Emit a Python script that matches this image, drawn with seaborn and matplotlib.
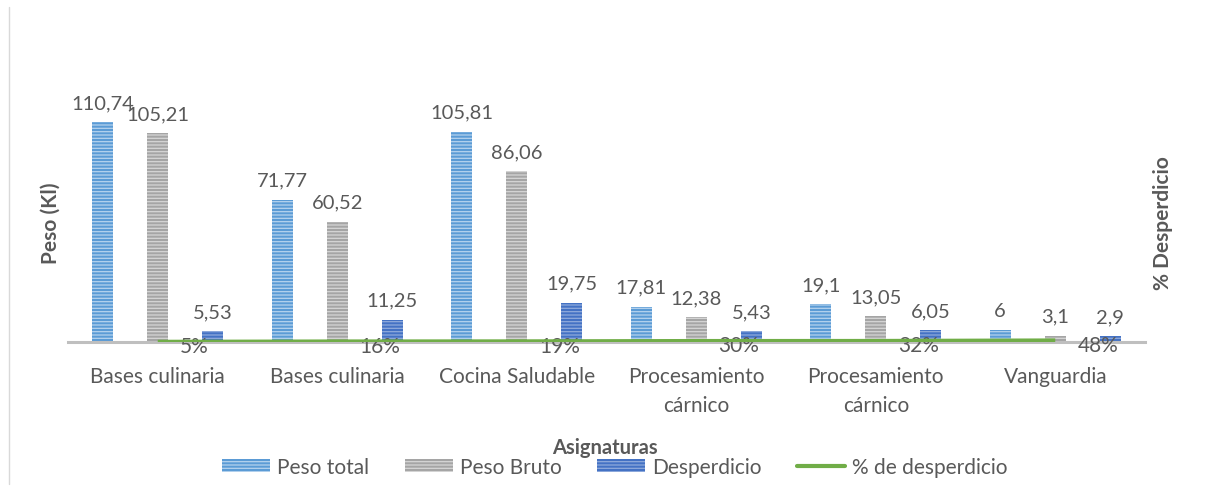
import matplotlib

matplotlib.use("Agg")
import matplotlib.pyplot as plt
import matplotlib.patches as mpatches
import matplotlib.lines as mlines
import pandas as pd
import seaborn as sns

categories = ["Bases culinaria", "Bases culinaria", "Cocina Saludable",
              "Procesamiento\ncárnico", "Procesamiento\ncárnico", "Vanguardia"]
peso_total = [110.74, 71.77, 105.81, 17.81, 19.1, 6]
peso_bruto = [105.21, 60.52, 86.06, 12.38, 13.05, 3.1]
desperdicio = [5.53, 11.25, 19.75, 5.43, 6.05, 2.9]
pct_desperdicio = [0.05, 0.16, 0.19, 0.30, 0.32, 0.48]
series_names = ["Peso total", "Peso Bruto", "Desperdicio"]

sns.set_theme(style="white")
plt.rcParams["font.family"] = ["Lato", "DejaVu Sans"]
plt.rcParams["hatch.linewidth"] = 0.9

TEXT = "#595959"
# (face, stripe) per series
styles = {
    "Peso total": ("#5B9BD5", "#B4D2EE"),
    "Peso Bruto": ("#A5A5A5", "#D6D6D6"),
    "Desperdicio": ("#4472C4", "#8FAADC"),
}

# unique x keys so repeated category names stay separate
keys = [f"{i}" for i in range(len(categories))]
rows = []
for name, vals in zip(series_names, [peso_total, peso_bruto, desperdicio]):
    for k, v in zip(keys, vals):
        rows.append({"cat": k, "serie": name, "valor": v})
df = pd.DataFrame(rows)

fig = plt.figure(figsize=(12.06, 4.89), dpi=100)
ax = fig.add_axes([68 / 1206, 1 - 343 / 489, (1145 - 68) / 1206, 0.6495])

sns.barplot(data=df, x="cat", y="valor", hue="serie", hue_order=series_names,
            palette=[styles[s][0] for s in series_names], width=0.92, gap=0.62,
            legend=False, ax=ax, zorder=2)

for cont, name in zip(ax.containers, series_names):
    face, stripe = styles[name]
    for bar in cont:
        bar.set_facecolor(face)
        bar.set_edgecolor(stripe)
        bar.set_hatch("-----")
        bar.set_linewidth(0)
    labels = [f"{v:g}".replace(".", ",") for v in cont.datavalues]
    ax.bar_label(cont, labels=labels, padding=8, fontsize=14.5, color=TEXT)

ax.set_ylim(0, 160)
ax.set_xlim(-0.5, len(categories) - 0.5)
ax.set_xticks(range(len(categories)))
ax.set_xticklabels(categories, fontsize=15, color=TEXT, linespacing=1.6)
ax.tick_params(axis="x", length=0, pad=17)
ax.set_yticks([])
ax.set_xlabel("")
ax.set_ylabel("")
for s in ["top", "right", "left"]:
    ax.spines[s].set_visible(False)
ax.spines["bottom"].set_color("#BFBFBF")
ax.spines["bottom"].set_linewidth(2.2)

# secondary axis for the percentage line
ax2 = ax.twinx()
ax2.plot(range(len(categories)), pct_desperdicio, color="#70AD47", lw=3, zorder=5,
         solid_capstyle="butt")
ax2.set_ylim(0, 100)
ax2.set_yticks([])
for s in ax2.spines.values():
    s.set_visible(False)
for i, p in enumerate(pct_desperdicio):
    ax2.annotate(f"{p:.0%}", (i, p), xytext=(16, -3), textcoords="offset points",
                 ha="left", va="center", fontsize=15, color=TEXT)

fig.text(51 / 1206, 1 - 223 / 489, "Peso (Kl)", rotation=90, ha="center", va="center",
         fontsize=15, fontweight="bold", color=TEXT)
fig.text(1163 / 1206, 1 - 223 / 489, "% Desperdicio", rotation=90, ha="center",
         va="center", fontsize=15, fontweight="bold", color=TEXT)
fig.text(605 / 1206, 1 - 448 / 489, "Asignaturas", ha="center", va="center",
         fontsize=14.5, fontweight="bold", color=TEXT)

handles = [mpatches.Patch(facecolor=styles[s][0], edgecolor=styles[s][1], hatch="-----",
                          linewidth=0, label=s) for s in series_names]
handles.append(mlines.Line2D([], [], color="#70AD47", lw=3, label="% de desperdicio"))
fig.legend(handles=handles, loc="center", bbox_to_anchor=(615 / 1206, 1 - 468 / 489),
           ncol=4, frameon=False, fontsize=15, labelcolor=TEXT, handlelength=2.3,
           handleheight=0.6, handletextpad=0.35, columnspacing=1.7,
           borderpad=0, borderaxespad=0)

# left frame line of the chart area
fig.add_artist(mlines.Line2D([8.5 / 1206, 8.5 / 1206], [1 - 485 / 489, 1 - 8 / 489],
                             color="#D9D9D9", lw=1))

fig.savefig("out.png", dpi=100)
